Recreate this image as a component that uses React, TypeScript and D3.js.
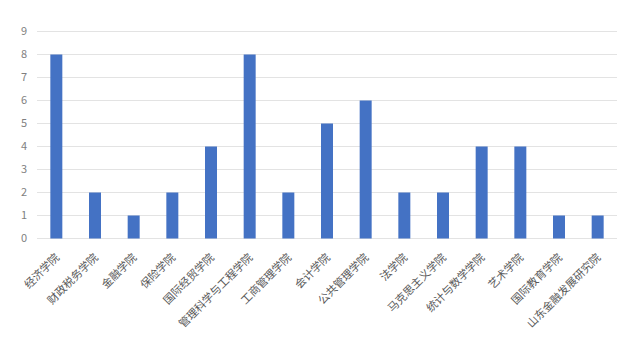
import React from "react";
import * as d3 from "d3";

const categories = [
  "经济学院",
  "财政税务学院",
  "金融学院",
  "保险学院",
  "国际经贸学院",
  "管理科学与工程学院",
  "工商管理学院",
  "会计学院",
  "公共管理学院",
  "法学院",
  "马克思主义学院",
  "统计与数学学院",
  "艺术学院",
  "国际教育学院",
  "山东金融发展研究院",
];
const values = [8, 2, 1, 2, 4, 8, 2, 5, 6, 2, 2, 4, 4, 1, 1];
const yTicks = [0, 1, 2, 3, 4, 5, 6, 7, 8, 9];

const W = 640;
const H = 346;
const left = 37;
const right = 617;
const top = 31.5;
const bottom = 238.5;

export default function App() {
  const x = d3.scaleBand<string>().domain(categories).range([left, right]).paddingInner(0.69).paddingOuter(0.345);
  const y = d3.scaleLinear().domain([0, 9]).range([bottom, top]);
  const font = "'Noto Sans CJK SC', 'Noto Sans', sans-serif";
  return (
    <svg width={W} height={H} style={{ position: "absolute", left: 0, top: 0, background: "#fff" }}>
      {yTicks.map((t) => (
        <g key={t}>
          <line x1={left} x2={right} y1={y(t)} y2={y(t)} stroke="#e3e3e3" strokeWidth={1} />
          <text x={27} y={y(t)} dy="0.35em" textAnchor="end" fontSize={11} fill="#7f7f7f" fontFamily={font}>
            {t}
          </text>
        </g>
      ))}
      {categories.map((c, i) => (
        <rect key={c} x={x(c)} y={y(values[i])} width={x.bandwidth()} height={y(0) - y(values[i])} fill="#4472C4" />
      ))}
      {categories.map((c) => {
        const cx = (x(c) as number) + x.bandwidth() / 2;
        return (
          <text
            key={c}
            transform={`translate(${cx + 1},${bottom + 17}) rotate(-45)`}
            textAnchor="end"
            fontSize={11}
            fill="#595959"
            fontFamily={font}
            dy="0.35em"
          >
            {c}
          </text>
        );
      })}
    </svg>
  );
}
